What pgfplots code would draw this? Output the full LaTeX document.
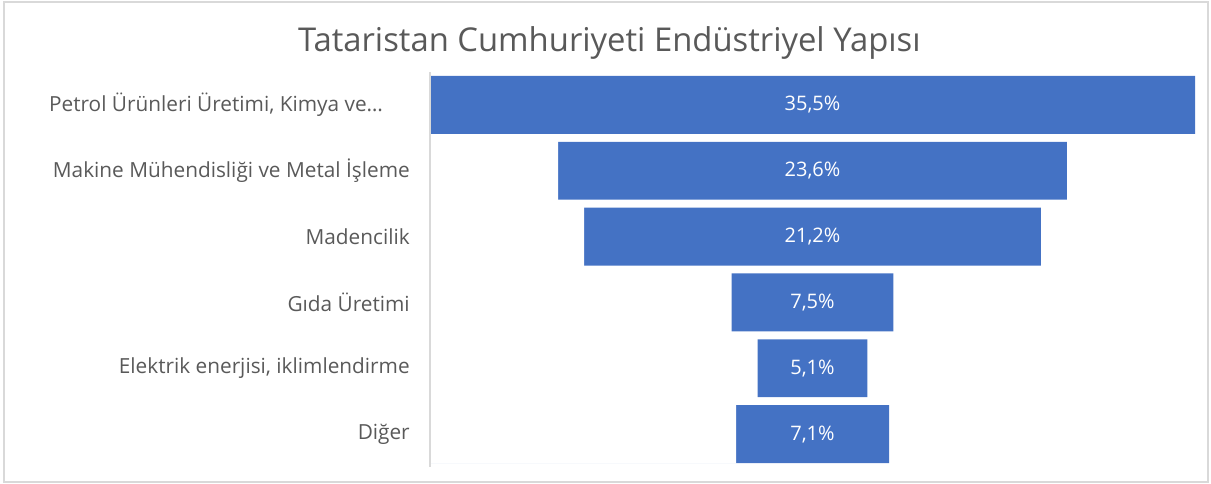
\documentclass[border=0pt]{standalone}
\usepackage{pgfplots}
\pgfplotsset{compat=1.18}
\usepackage{fontspec}
\setmainfont{Open Sans}
\definecolor{barblue}{HTML}{4472C4}
\definecolor{txtgray}{HTML}{595959}
\definecolor{linegray}{HTML}{D9D9D9}
\begin{document}
\begin{tikzpicture}
\path[use as bounding box] (0,0) rectangle (908.25pt,363pt);
\draw[linegray, line width=0.8pt] (3pt,1.5pt) rectangle (906pt,361.5pt);
\node[txtgray, font=\fontsize{24.6}{29}\selectfont] at (457pt,331pt) {Tataristan Cumhuriyeti Endüstriyel Yapısı};
\begin{axis}[
  scale only axis,
  at={(322.5pt,12.75pt)}, anchor=south west,
  width=573.75pt, height=296.25pt,
  xmin=0, xmax=35.5,
  ymin=-0.5, ymax=5.5,
  y dir=reverse,
  axis on top,
  axis x line=none,
  axis y line*=left,
  y axis line style={linegray, line width=0.8pt, -},
  ytick={0,1,2,3,4,5},
  yticklabels={{Petrol Ürünleri Üretimi, Kimya ve\ldots\rule{20pt}{0pt}},Makine Mühendisliği ve Metal İşleme,Madencilik,Gıda Üretimi,{Elektrik enerjisi, iklimlendirme},Diğer},
  major tick length=0pt,
  yticklabel style={anchor=east, inner sep=0pt, xshift=-15pt, txtgray, font=\fontsize{15.6}{18}\selectfont},
  clip=false,
]
% full bars: right end = (35.5 + v)/2
\addplot[xbar, bar shift=0pt, bar width=0.88, fill=barblue, draw=none] coordinates {
  (35.5,0) (29.55,1) (28.35,2) (21.5,3) (20.3,4) (21.3,5)};
% white offset: (35.5 - v)/2
\addplot[xbar, bar shift=0pt, bar width=0.9, fill=white, draw=none] coordinates {
  (0,0) (5.95,1) (7.15,2) (14,3) (15.2,4) (14.2,5)};
% data labels
\addplot[draw=none, mark=none, point meta=explicit symbolic,
  nodes near coords, nodes near coords align=center,
  every node near coord/.style={white, font=\fontsize{15}{17}\selectfont}] coordinates {
  (17.75,0) [35,5\%] (17.75,1) [23,6\%] (17.75,2) [21,2\%] (17.75,3) [7,5\%] (17.75,4) [5,1\%] (17.75,5) [7,1\%]};
\end{axis}
\end{tikzpicture}
\end{document}
